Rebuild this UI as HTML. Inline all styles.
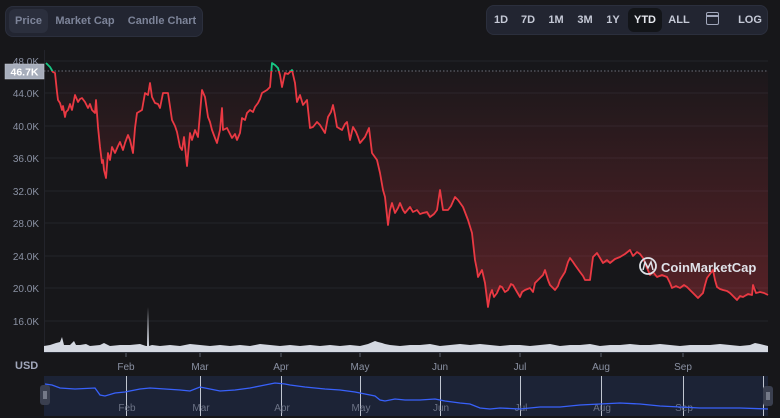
<!DOCTYPE html>
<html><head><meta charset="utf-8"><style>
html,body{margin:0;padding:0;background:#17171a;width:780px;height:418px;overflow:hidden;font-family:"Liberation Sans",sans-serif}
.grp{position:absolute;background:#222531;border:1px solid #2b2f3d;border-radius:8px;box-sizing:border-box}
.b{position:absolute;font-size:11px;font-weight:bold;color:#a1a7bb;text-align:center}
</style></head><body>
<div class="grp" style="left:5px;top:6px;width:198px;height:31px"></div>
<div style="position:absolute;left:9px;top:9px;width:39px;height:24px;background:#2b2f3d;border-radius:6px"></div>
<div class="b" style="left:9px;top:15px;width:39px;color:#7d8499">Price</div>
<div class="b" style="left:52px;top:15px;width:66px;color:#7d8499">Market Cap</div>
<div class="b" style="left:124px;top:15px;width:76px;color:#7d8499">Candle Chart</div>
<div class="grp" style="left:486px;top:5px;width:282px;height:30px"></div>
<div style="position:absolute;left:628px;top:8px;width:34px;height:24px;background:#131519;border-radius:6px"></div>
<div class="b" style="left:490px;top:14px;width:22px;color:#c5c9d6">1D</div>
<div class="b" style="left:516px;top:14px;width:24px;color:#c5c9d6">7D</div>
<div class="b" style="left:544px;top:14px;width:24px;color:#c5c9d6">1M</div>
<div class="b" style="left:573px;top:14px;width:24px;color:#c5c9d6">3M</div>
<div class="b" style="left:602px;top:14px;width:22px;color:#c5c9d6">1Y</div>
<div class="b" style="left:628px;top:14px;width:34px;color:#e6e8ee">YTD</div>
<div class="b" style="left:666px;top:14px;width:26px;color:#c5c9d6">ALL</div>
<div style="position:absolute;left:706px;top:12px;width:11px;height:11px;border:1.5px solid #a1a7bb;border-radius:2px"></div>
<div style="position:absolute;left:706px;top:15px;width:13px;height:1.5px;background:#a1a7bb"></div>
<div class="b" style="left:736px;top:14px;width:28px;color:#c5c9d6">LOG</div>

<svg width="780" height="418" style="position:absolute;left:0;top:0" font-family="Liberation Sans, sans-serif">
<defs>
<linearGradient id="rg" x1="0" y1="71" x2="0" y2="300" gradientUnits="userSpaceOnUse">
<stop offset="0" stop-color="#ea3943" stop-opacity="0.02"/><stop offset="1" stop-color="#ea3943" stop-opacity="0.3"/></linearGradient>
<clipPath id="below"><rect x="0" y="71" width="780" height="300"/></clipPath>
<clipPath id="above"><rect x="0" y="0" width="780" height="71"/></clipPath>
</defs>
<g stroke="#23242b" stroke-width="1">
<line x1="44" y1="61" x2="768" y2="61"/><line x1="44" y1="93" x2="768" y2="93"/><line x1="44" y1="126" x2="768" y2="126"/><line x1="44" y1="158" x2="768" y2="158"/><line x1="44" y1="191" x2="768" y2="191"/><line x1="44" y1="223" x2="768" y2="223"/><line x1="44" y1="256" x2="768" y2="256"/><line x1="44" y1="288" x2="768" y2="288"/><line x1="44" y1="321" x2="768" y2="321"/>
<line x1="44.5" y1="50" x2="44.5" y2="352"/>
</g>
<g fill="#8a91a3" font-size="10" text-anchor="end">
<text x="39" y="65">48.0K</text><text x="39" y="97">44.0K</text><text x="39" y="130">40.0K</text><text x="39" y="162">36.0K</text><text x="39" y="195">32.0K</text><text x="39" y="227">28.0K</text><text x="39" y="260">24.0K</text><text x="39" y="292">20.0K</text><text x="39" y="325">16.0K</text>
</g>
<line x1="44" y1="71" x2="768" y2="71" stroke="#6b6f7a" stroke-dasharray="1.5,2"/>
<polygon clip-path="url(#below)" fill="url(#rg)" points="46,71 46,63 50,67 53,72 55,73 57,92 58,100 62,110 65,117 68,110 72,110 75,95 78,102 82,98 85,102 88,108 92,110 95,113 96,100 98,127 100,147 102,163 103,160 106,178 108,153 112,147 115,153 120,142 125,143 128,135 133,153 137,113 142,110 145,93 150,83 152,97 155,103 160,108 163,93 168,93 172,120 177,132 180,147 184,137 187,166 190,133 195,130 198,137 202,90 205,97 208,117 212,130 217,143 222,108 223,130 227,128 232,138 237,140 240,133 242,118 247,113 250,110 255,107 258,103 262,93 267,90 270,87 272,63 275,65 278,68 282,87 285,73 292,70 295,83 297,102 300,95 303,105 307,100 310,128 313,127 317,122 320,125 325,133 328,117 333,105 337,127 342,130 347,122 350,140 353,127 358,137 360,143 365,137 369,128 372,153 377,160 380,173 383,190 385,197 388,225 392,203 395,213 400,203 405,213 410,207 417,210 423,213 430,217 437,210 440,190 443,210 448,210 455,197 458,200 463,207 468,220 472,233 475,260 478,277 482,270 485,283 488,307 492,290 497,293 502,287 508,290 513,285 517,292 520,297 525,290 530,288 535,283 540,278 545,270 550,285 555,290 560,280 565,272 570,258 575,265 580,272 585,280 590,280 593,257 597,253 603,263 610,263 620,257 630,250 637,252 643,258 650,275 657,277 667,277 672,288 680,288 687,287 698,298 703,293 707,278 713,270 717,287 723,290 730,293 737,300 743,297 752,295 753,285 760,292 768,295 768,71"/>
<polyline id="pl" fill="none" stroke-width="1.8" stroke-linejoin="round" points="46,63 50,67 53,72 55,73 57,92 58,100 60,103 62,110 63,106 65,117 66,112 68,110 70,104 72,110 75,95 78,102 80,99 82,98 85,102 88,108 90,104 92,110 95,113 96,100 98,127 100,147 102,163 103,160 104,170 106,178 108,153 110,160 112,147 115,153 118,146 120,142 123,150 125,143 128,135 130,140 133,153 135,128 137,113 142,110 145,93 148,95 150,83 152,97 155,103 158,104 160,108 163,93 168,93 172,120 175,126 177,132 180,147 182,150 184,137 187,166 190,133 192,140 195,130 198,137 202,90 205,97 208,117 210,122 212,130 215,138 217,143 220,130 222,108 223,130 227,128 230,134 232,138 235,134 237,140 240,133 242,118 245,120 247,113 250,110 253,112 255,107 258,103 260,99 262,93 267,90 270,87 272,63 275,65 278,68 280,75 282,87 285,73 288,74 292,70 295,83 297,102 300,95 303,105 307,100 310,128 313,127 317,122 320,125 325,133 328,117 331,112 333,105 335,115 337,127 342,130 345,124 347,122 350,140 353,127 356,132 358,137 360,143 365,137 369,128 372,153 377,160 380,173 383,190 385,197 388,225 390,210 392,203 395,213 398,208 400,203 403,210 405,213 410,207 413,212 417,210 420,214 423,213 427,212 430,217 434,214 437,210 440,190 443,210 448,210 451,206 455,197 458,200 463,207 468,220 472,233 475,260 477,270 478,277 482,270 485,283 488,307 490,295 492,290 494,297 497,293 500,286 502,287 505,292 508,290 511,284 513,285 517,292 520,297 522,292 525,290 530,288 533,292 535,283 540,278 543,275 545,270 548,280 550,285 555,290 558,286 560,280 565,272 568,262 570,258 573,262 575,265 580,272 583,276 585,280 590,280 593,257 597,253 600,258 603,263 607,260 610,263 615,259 620,257 625,254 630,250 633,256 637,252 640,254 643,258 647,268 650,275 653,272 657,277 662,275 667,277 670,283 672,288 676,286 680,288 684,285 687,287 692,292 698,298 701,295 703,293 705,285 707,278 710,274 713,270 715,280 717,287 720,289 723,290 727,291 730,293 734,297 737,300 740,296 743,297 748,294 752,295 753,285 756,293 760,292 764,293 768,295"/>
<use href="#pl" stroke="#ea3943" clip-path="url(#below)"/>
<use href="#pl" stroke="#16c784" clip-path="url(#above)"/>
<rect x="5" y="64" width="39" height="15" fill="#a6adbb" stroke="#c5cad4" stroke-width="0.5"/>
<text x="24.5" y="75.5" fill="#fff" font-size="10.5" font-weight="bold" text-anchor="middle">46.7K</text>
<g>
<circle cx="648" cy="266" r="8" fill="none" stroke="#dfe2e8" stroke-width="1.8"/>
<path d="M643,270 L645,262 L648,268 L651,262 L653,270" fill="none" stroke="#dfe2e8" stroke-width="1.5"/>
<text x="661" y="272" fill="#dfe2e8" font-size="13" font-weight="bold">CoinMarketCap</text>
</g>
<polygon fill="#d4d8e1" points="44,352 44,346 50,345 56,343 60,342 62,337 64,345 70,345 74,341 76,345 80,345 86,344 90,346 100,345 104,343 110,346 120,345 130,345 140,344 146,346 147,346 148,307 149,346 152,345 160,346 170,345 180,346 190,344 200,345 210,346 220,345 230,346 240,345 250,346 260,344 270,345 280,346 290,345 300,346 310,345 320,346 330,345 340,346 350,345 360,346 368,344 375,341 378,342 382,343 385,344 390,345 400,346 410,345 420,345 430,344 440,346 450,345 460,344 470,345 480,344 490,345 500,346 510,345 520,345 530,346 540,345 550,344 560,346 570,345 580,345 590,344 600,346 610,345 620,345 630,344 640,345 650,345 660,344 670,345 680,346 690,345 700,345 710,345 720,344 730,345 740,346 750,345 755,343 760,344 768,346 768,352"/>
<line x1="44" y1="352.5" x2="768" y2="352.5" stroke="#2b2f3a"/>
<g stroke="#5a5f6c"><line x1="126" y1="353" x2="126" y2="357"/><line x1="200" y1="353" x2="200" y2="357"/><line x1="281" y1="353" x2="281" y2="357"/><line x1="360" y1="353" x2="360" y2="357"/><line x1="440" y1="353" x2="440" y2="357"/><line x1="520" y1="353" x2="520" y2="357"/><line x1="601" y1="353" x2="601" y2="357"/><line x1="683" y1="353" x2="683" y2="357"/></g>
<g fill="#8a91a3" font-size="10" text-anchor="middle">
<text x="126" y="370">Feb</text><text x="200" y="370">Mar</text><text x="281" y="370">Apr</text><text x="360" y="370">May</text><text x="440" y="370">Jun</text><text x="520" y="370">Jul</text><text x="601" y="370">Aug</text><text x="683" y="370">Sep</text>
</g>
<text x="15" y="369" fill="#a1a7bb" font-size="11" font-weight="bold">USD</text>
<rect x="44" y="376" width="724" height="40" fill="#1c2336"/>
<g stroke="#c0c5d0" stroke-width="1"><line x1="126.5" y1="376" x2="126.5" y2="416"/><line x1="200.5" y1="376" x2="200.5" y2="416"/><line x1="281.5" y1="376" x2="281.5" y2="416"/><line x1="360.5" y1="376" x2="360.5" y2="416"/><line x1="440.5" y1="376" x2="440.5" y2="416"/><line x1="520.5" y1="376" x2="520.5" y2="416"/><line x1="601.5" y1="376" x2="601.5" y2="416"/><line x1="683.5" y1="376" x2="683.5" y2="416"/><line x1="763.5" y1="376" x2="763.5" y2="416"/></g>
<g fill="#6b7285" font-size="10" text-anchor="middle">
<text x="127" y="411">Feb</text><text x="201" y="411">Mar</text><text x="282" y="411">Apr</text><text x="361" y="411">May</text><text x="441" y="411">Jun</text><text x="521" y="411">Jul</text><text x="602" y="411">Aug</text><text x="684" y="411">Sep</text>
</g>
<polyline fill="none" stroke="#3861fb" stroke-width="1.3" points="45,384 52,385 60,388 75,389 95,388 100,395 105,396 115,393 125,392 135,390 140,389 150,388 165,389 180,390 190,391 200,387 210,389 220,391 235,390 250,388 265,385 275,383 285,384 290,385 305,387 325,389 340,390 355,392 365,394 375,396 380,400 385,401 395,399 405,400 420,400 435,399 445,401 460,403 470,404 480,408 490,409 500,408 520,409 540,407 560,407 580,405 600,404 620,403 640,404 660,406 680,407 700,408 720,408 740,408 768,409"/>
<rect x="40" y="385" width="10" height="20" rx="3" fill="#3a3f4f"/>
<line x1="44" y1="391" x2="44" y2="399" stroke="#aeb3c0"/><line x1="46" y1="391" x2="46" y2="399" stroke="#aeb3c0"/>
<rect x="763" y="386" width="10" height="20" rx="3" fill="#3a3f4f"/>
<line x1="767" y1="392" x2="767" y2="400" stroke="#aeb3c0"/><line x1="769" y1="392" x2="769" y2="400" stroke="#aeb3c0"/>
</svg>
</body></html>
